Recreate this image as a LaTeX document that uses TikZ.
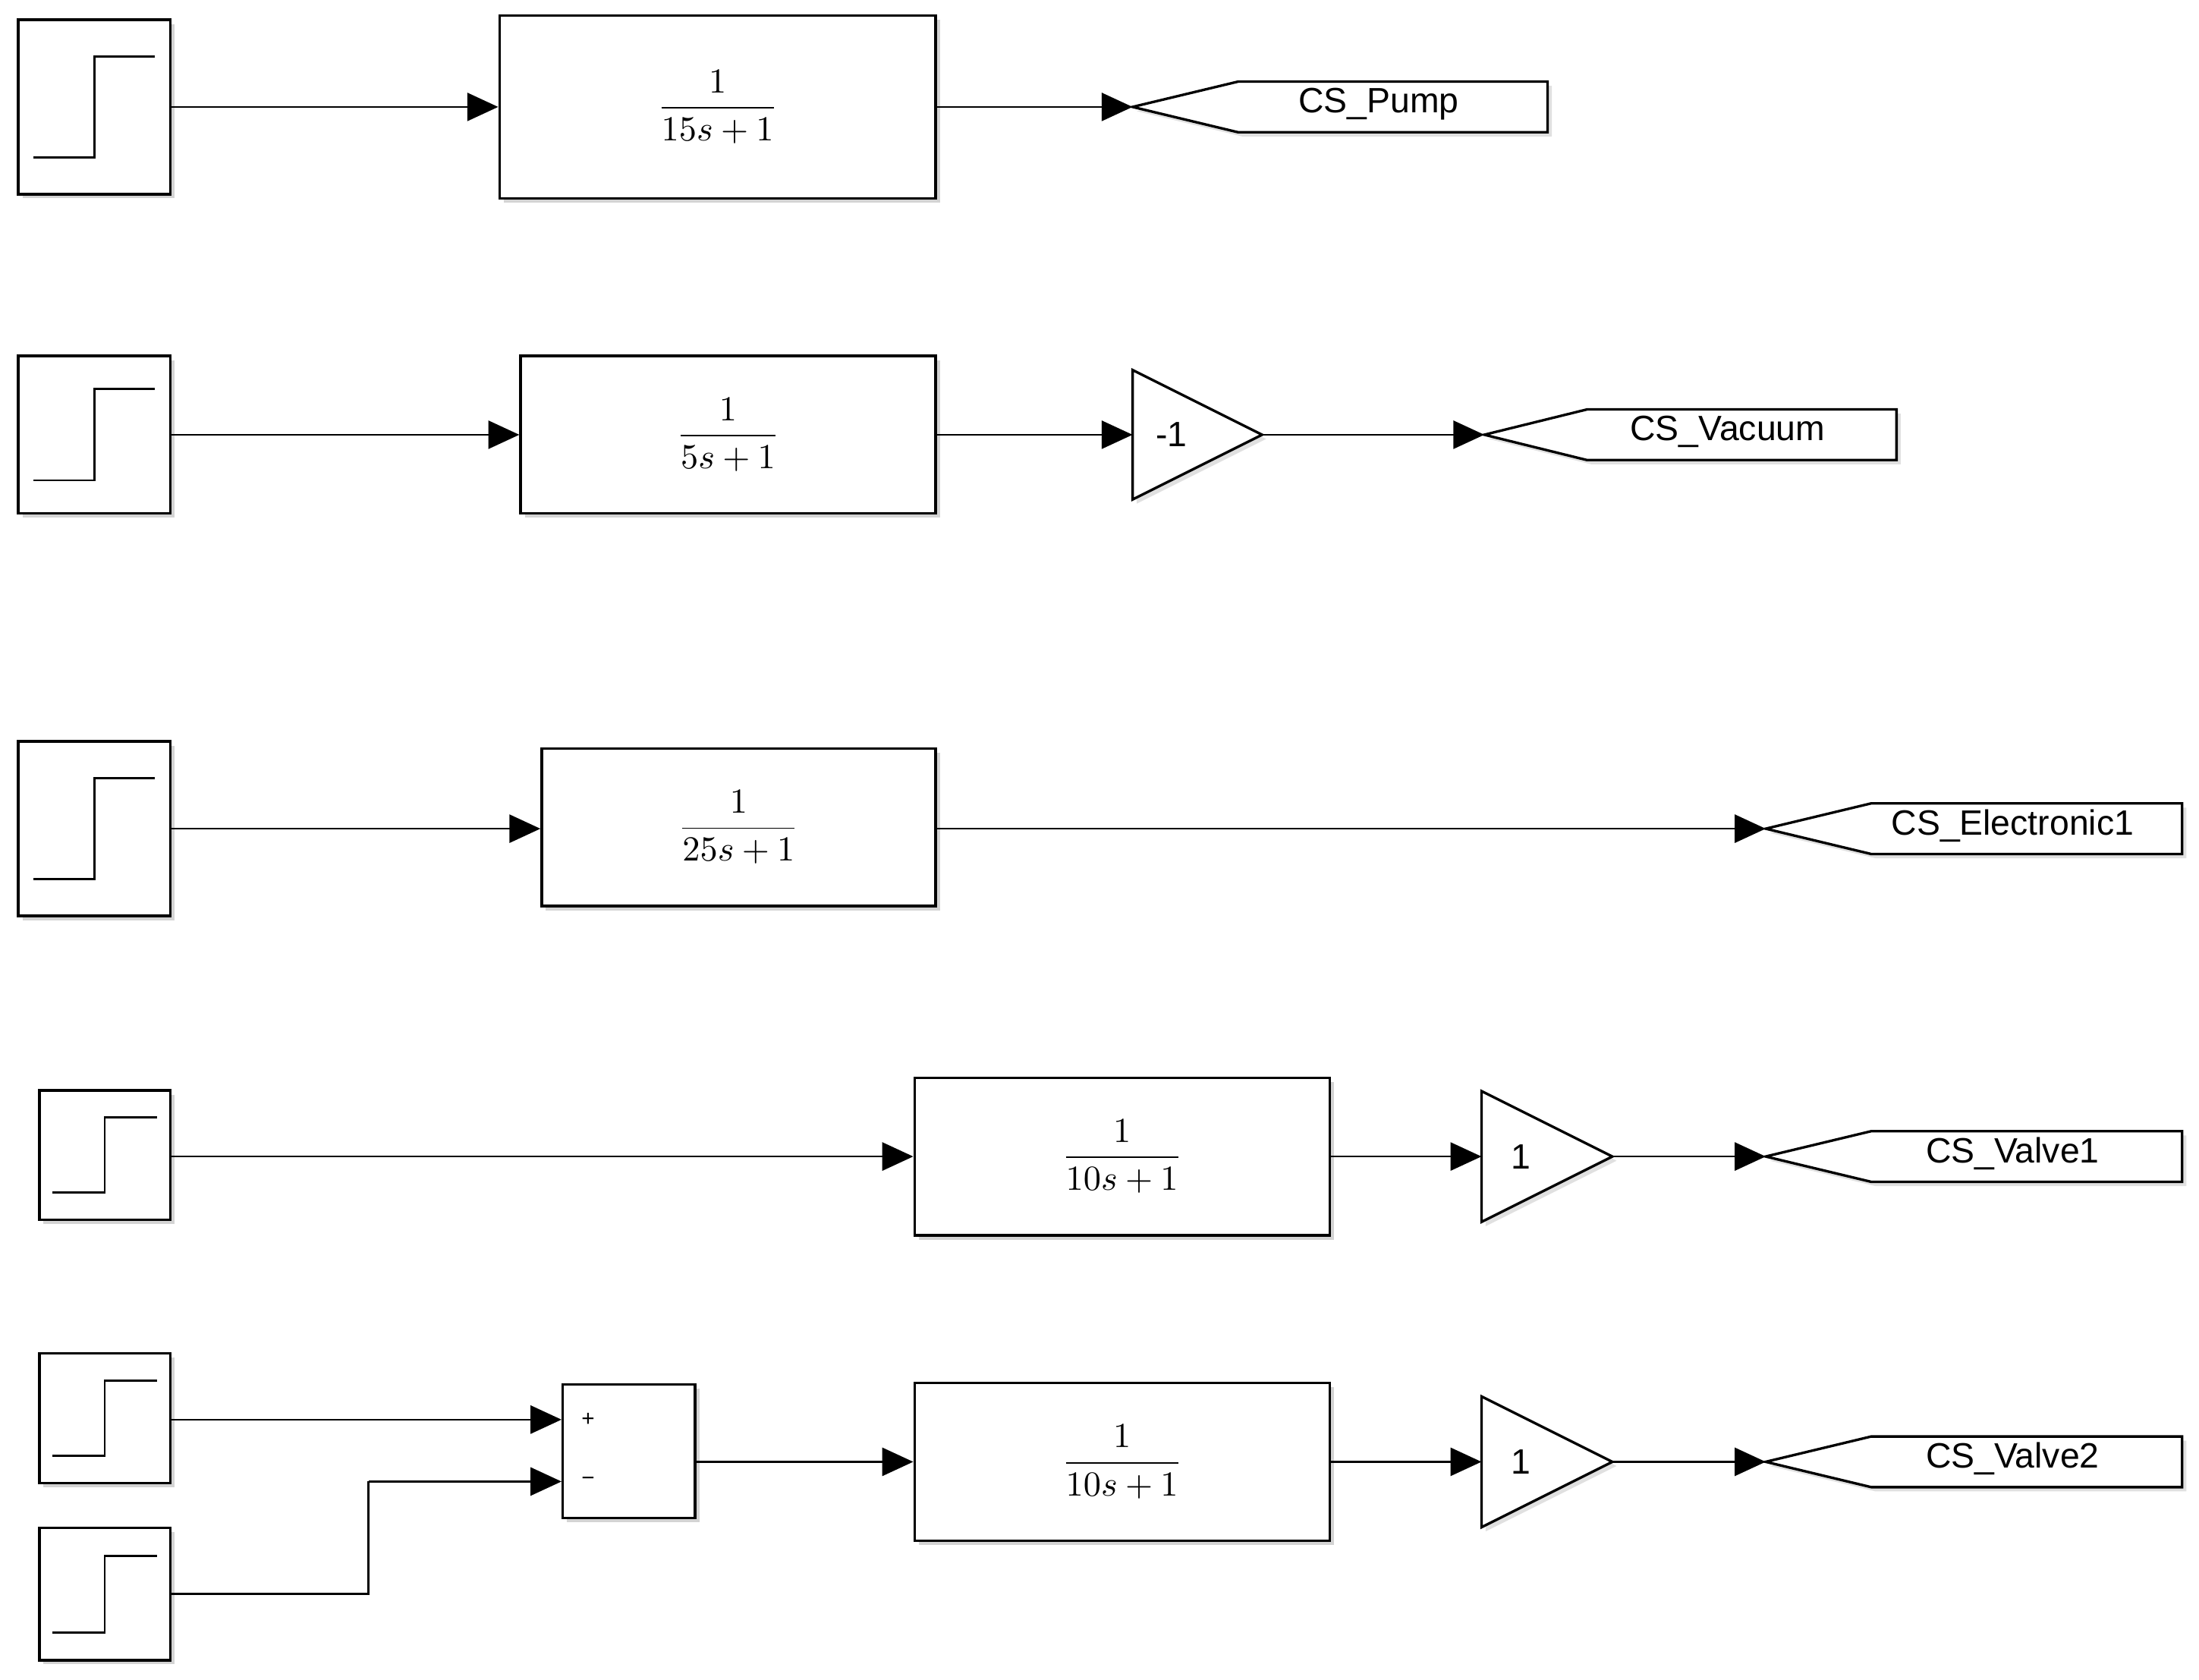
\documentclass[tikz,border=0pt]{standalone}
\usepackage{amsmath}
\usepackage{fontspec}
\newfontfamily\lab{Liberation Sans}
\usetikzlibrary{arrows.meta,shadows}
\begin{document}
\begin{tikzpicture}[x=1pt,y=-1pt,
  blk/.style={draw,line width=1.8pt,fill=white,inner sep=0pt,drop shadow={shadow xshift=3pt,shadow yshift=-3pt,opacity=0.35}},
  wire/.style={line width=1.4pt,-{Triangle[length=22pt,width=20pt]}},
  plain/.style={line width=1.4pt},
  lbl/.style={font=\lab\fontsize{25}{28}\selectfont},
  tf/.style={}]
\useasboundingbox (0,0) rectangle (1563,1194);
\newcommand\stepbox[5]{%
  \node[blk,minimum width=#4-#2,minimum height=#5-#3] (#1) at ({(#2+#4)/2},{(#3+#5)/2}) {};
  \draw[line width=1.4pt] ({#2+0.1*(#4-#2)},{#5-0.21*(#5-#3)}) -| ({(#2+#4)/2},{#3+0.21*(#5-#3)}) -- ({#4-0.1*(#4-#2)},{#3+0.21*(#5-#3)});}
\newcommand\tfbox[6]{%
  \node[blk,tf,minimum width=#4-#2,minimum height=#5-#3] (#1) at ({(#2+#4)/2},{(#3+#5)/2}) {\scalebox{2.5}{$\dfrac{1}{#6}$}};}
\newcommand\gain[5]{%
  \fill[black!35,opacity=0.35] (#2+3,#3+3) -- (#2+3,#4+3) -- ({#2+3+(#4-#3)},{(#3+#4)/2+3}) -- cycle;
  \draw[line width=1.8pt,fill=white] (#2,#3) -- (#2,#4) -- ({#2+(#4-#3)},{(#3+#4)/2}) -- cycle;
  \coordinate (#1in) at (#2,{(#3+#4)/2});
  \coordinate (#1out) at ({#2+(#4-#3)},{(#3+#4)/2});
  \node[lbl] at ({#2+0.3*(#4-#3)},{(#3+#4)/2}) {#5};}
\newcommand\goto[6]{%
  \fill[black!35,opacity=0.35] (#2+3,#5+21) -- (#3+3,#5+3) -- (#4+3,#5+3) -- (#4+3,#5+39) -- (#3+3,#5+39) -- cycle;
  \draw[line width=1.8pt,fill=white] (#2,#5+18) -- (#3,#5) -- (#4,#5) -- (#4,#5+36) -- (#3,#5+36) -- cycle;
  \coordinate (#1) at (#2,#5+18);
  \node[lbl] at ({(#3+#4)/2-10},#5+16) {#6};}
% Row 1
\stepbox{s1}{13}{14}{121}{138}
\tfbox{t1}{355}{11}{665}{141}{15s+1}
\goto{g1}{805}{880}{1100}{58}{CS\_Pump}
\draw[wire] (s1.east |- 0,76) -- (t1.west |- 0,76);
\draw[wire] (t1.east |- 0,76) -- (g1);
% Row 2
\stepbox{s2}{13}{253}{121}{365}
\tfbox{t2}{370}{253}{665}{365}{5s+1}
\gain{k2}{805}{263}{355}{-1}
\goto{g2}{1055}{1128}{1348}{291}{CS\_Vacuum}
\draw[wire] (s2.east) -- (t2.west);
\draw[wire] (t2.east) -- (k2in);
\draw[wire] (k2out) -- (g2);
% Row 3
\stepbox{s3}{13}{527}{121}{651}
\tfbox{t3}{385}{532}{665}{644}{25s+1}
\goto{g3}{1255}{1330}{1551}{571}{CS\_Electronic1}
\draw[wire] (s3.east |- 0,589) -- (t3.west |- 0,589);
\draw[wire] (t3.east |- 0,589) -- (g3);
% Row 4
\stepbox{s4}{28}{775}{121}{867}
\tfbox{t4}{650}{766}{945}{878}{10s+1}
\gain{k4}{1053}{775.5}{868.5}{1}
\goto{g4}{1255}{1330}{1551}{804}{CS\_Valve1}
\draw[wire] (s4.east |- 0,822) -- (t4.west |- 0,822);
\draw[wire] (t4.east |- 0,822) -- (k4in);
\draw[wire] (k4out) -- (g4);
% Row 5
\stepbox{s5}{28}{962}{121}{1054}
\stepbox{s6}{28}{1086}{121}{1180}
\node[blk,minimum width=94,minimum height=95] (sum) at (447,1031.5) {};
\node[font=\lab\fontsize{16}{18}\selectfont] at (418,1009) {+};
\node[font=\lab\fontsize{16}{18}\selectfont] at (418,1053) {−};
\tfbox{t5}{650}{983}{945}{1095}{10s+1}
\gain{k5}{1053}{992.5}{1085.5}{1}
\goto{g5}{1255}{1330}{1551}{1021}{CS\_Valve2}
\coordinate (bend1) at (262,1133);
\coordinate (bend2) at (262,1053);
\draw[wire] (s5.east |- 0,1009) -- (sum.west |- 0,1009);
\draw[plain] (s6.east |- 0,1133) -- (bend1) -- (bend2);
\draw[wire] (bend2) -- (sum.west |- 0,1053);
\draw[wire] (sum.east |- 0,1039) -- (t5.west |- 0,1039);
\draw[wire] (t5.east |- 0,1039) -- (k5in);
\draw[wire] (k5out) -- (g5);
\end{tikzpicture}
\end{document}
